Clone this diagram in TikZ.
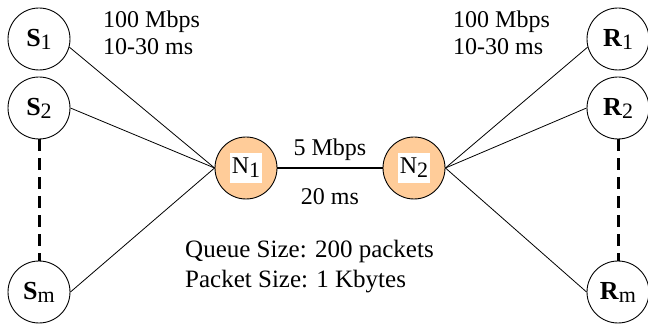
\documentclass[tikz,border=0pt]{standalone}
\usepackage{fontspec}
\setmainfont{Liberation Serif}
\usetikzlibrary{positioning}

\definecolor{peach}{RGB}{255,204,153}

\newcommand{\hostlbl}[2]{{\fontsize{26}{26}\selectfont\textbf{#1}}\raisebox{-3pt}{\fontsize{22}{22}\selectfont #2}}
\newcommand{\routerlbl}[1]{\fboxsep=1.5pt\colorbox{white}{\strut N\raisebox{-4pt}{\fontsize{22}{22}\selectfont #1}}}

\begin{document}
\begin{tikzpicture}[x=1pt,y=-1pt,on grid,font=\fontsize{24}{27}\selectfont,
	host/.style={circle,draw,line width=0.9pt,minimum size=62pt,inner sep=0pt},
	router/.style={host,fill=peach},
	link/.style={line width=0.8pt},
	dashline/.style={line width=3pt,dash pattern=on 12pt off 7pt},
	txt/.style={anchor=north west,align=left,inner sep=0pt}]
	\useasboundingbox (0,0) rectangle (648,331);

	\node[host] (S1) at (39,39) {\hostlbl{S}{1}};
	\node[host] (S2) [below=69pt of S1] {\hostlbl{S}{2}};
	\node[host] (Sm) [below=184pt of S2] {\hostlbl{S}{m}};

	\node[host] (R1) [right=579pt of S1] {\hostlbl{R}{1}};
	\node[host] (R2) [right=579pt of S2] {\hostlbl{R}{2}};
	\node[host] (Rm) [right=579pt of Sm] {\hostlbl{R}{m}};

	\node[router] (N1) at (246,168) {\routerlbl{1}};
	\node[router] (N2) [right=168pt of N1] {\routerlbl{2}};


	\path[link]

	(N1.west) edge (S1.-15)
	          edge (S2.east)
	          edge (Sm.east)

	(N2.east) edge (R1.195)
	          edge (R2.west)
	          edge (Rm.west);

	\draw[line width=1.6pt] (N1) -- node[anchor=base,yshift=12pt] {5 Mbps}
		node[anchor=base,yshift=-37pt] {20 ms} (N2);

	\draw[dashline] (S2) -- (Sm);
	\draw[dashline] (R2) -- (Rm);

	\node[txt] (rateS) at (103,11) {100 Mbps\\10-30 ms};
	\node[txt] (rateR) at (453,11) {100 Mbps\\10-30 ms};
	\node[txt,font=\fontsize{25}{30}\selectfont] (buf) at (185,240) {Queue Size: 200 packets\\Packet Size: 1 Kbytes};

\end{tikzpicture}
\end{document}
